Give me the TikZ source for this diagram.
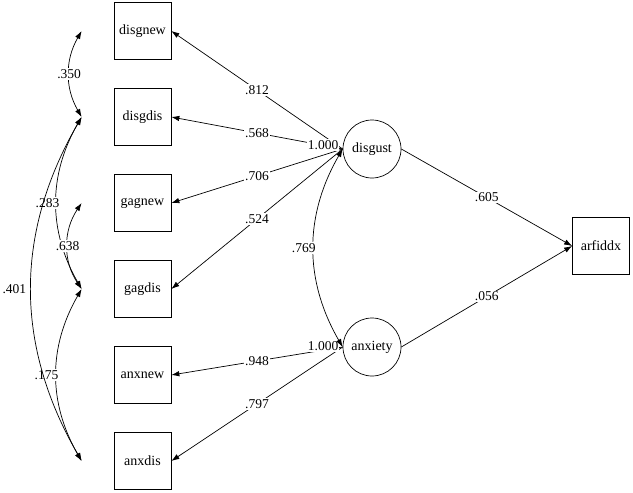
\documentclass[tikz,border=0pt]{standalone}
\usepackage{fontspec}
\setmainfont{Liberation Serif}
\usetikzlibrary{shapes.geometric, arrows.meta}
\tikzstyle{observed} = [rectangle,
minimum width=57pt,
minimum height=57pt,
text centered,
draw=black,
font=\fontsize{14}{16}\selectfont]
\tikzstyle{latent} = [circle,
minimum size=58pt,
inner sep=0pt,
text centered,
draw=black,
font=\fontsize{14}{16}\selectfont]
\tikzstyle{coef} = [fill=white, inner sep=1pt, font=\fontsize{13.5}{15}\selectfont]
\tikzstyle{arrow} = [->,>={Latex[length=8pt,width=5.5pt]}]
\tikzstyle{covar} = [<->,>={Latex[length=8pt,width=5.5pt]}]

\begin{document}
\begin{tikzpicture}[x=1pt, y=-1pt, node distance=86pt, line width=0.7pt]
\useasboundingbox (0,0) rectangle (633,493);

\node (disgnew) [observed] at (142.5,31) {disgnew};
\node (disgdis) [observed, below of=disgnew] {disgdis};
\node (gagnew) [observed, below of=disgdis] {gagnew};
\node (gagdis) [observed, below of=gagnew] {gagdis};
\node (anxnew) [observed, below of=gagdis] {anxnew};
\node (anxdis) [observed, below of=anxnew] {anxdis};

\node (disgust) [latent] at (372,149) {disgust};
\node (anxiety) [latent, below of=disgust, node distance=198pt] {anxiety};
\node (arfiddx) [observed] at (601,246) {arfiddx};

% ends of the covariance arcs
\coordinate (e1) at ([xshift=-32pt]disgnew.west);
\coordinate (e2) at ([xshift=-32pt]disgdis.west);
\coordinate (e3) at ([xshift=-32pt]gagnew.west);
\coordinate (e4) at ([xshift=-32pt]gagdis.west);
\coordinate (e6) at ([xshift=-32pt]anxdis.west);

\draw [arrow] (disgust.west) -- node[coef] {.812} (disgnew.east);
\draw [arrow] (disgust.west) -- node[coef] {.568} (disgdis.east);
\draw [arrow] (disgust.west) -- node[coef] {.706} (gagnew.east);
\draw [arrow] (disgust.west) -- node[coef] {.524} (gagdis.east);
\draw [arrow] (anxiety.west) -- node[coef] {.948} (anxnew.east);
\draw [arrow] (anxiety.west) -- node[coef] {.797} (anxdis.east);
\draw [arrow] (disgust.east) -- node[coef] {.605} (arfiddx.west);
\draw [arrow] (anxiety.east) -- node[coef] {.056} (arfiddx.west);

\node (vardisg) [coef, anchor=east, xshift=-3pt, yshift=4pt] at (disgust.west) {1.000};
\node (varanx) [coef, anchor=east, xshift=-3pt, yshift=1pt] at (anxiety.west) {1.000};
\draw [covar] (disgust.west) to[bend right=30] node[coef, xshift=-10pt] {.769} (anxiety.west);

\draw [covar] (e1) to[bend right=30] node[coef] {.350} (e2);
\draw [covar] (e2) to[bend right=30] node[coef, xshift=-9pt] {.283} (e4);
\draw [covar] (e3) to[bend right=34] node[coef] {.638} (e4);
\draw [covar] (e4) to[bend right=30] node[coef, xshift=-10pt] {.175} (e6);
\draw [covar] (e2) to[bend right=30] node[coef, xshift=-17pt] {.401} (e6);

\end{tikzpicture}
\end{document}
